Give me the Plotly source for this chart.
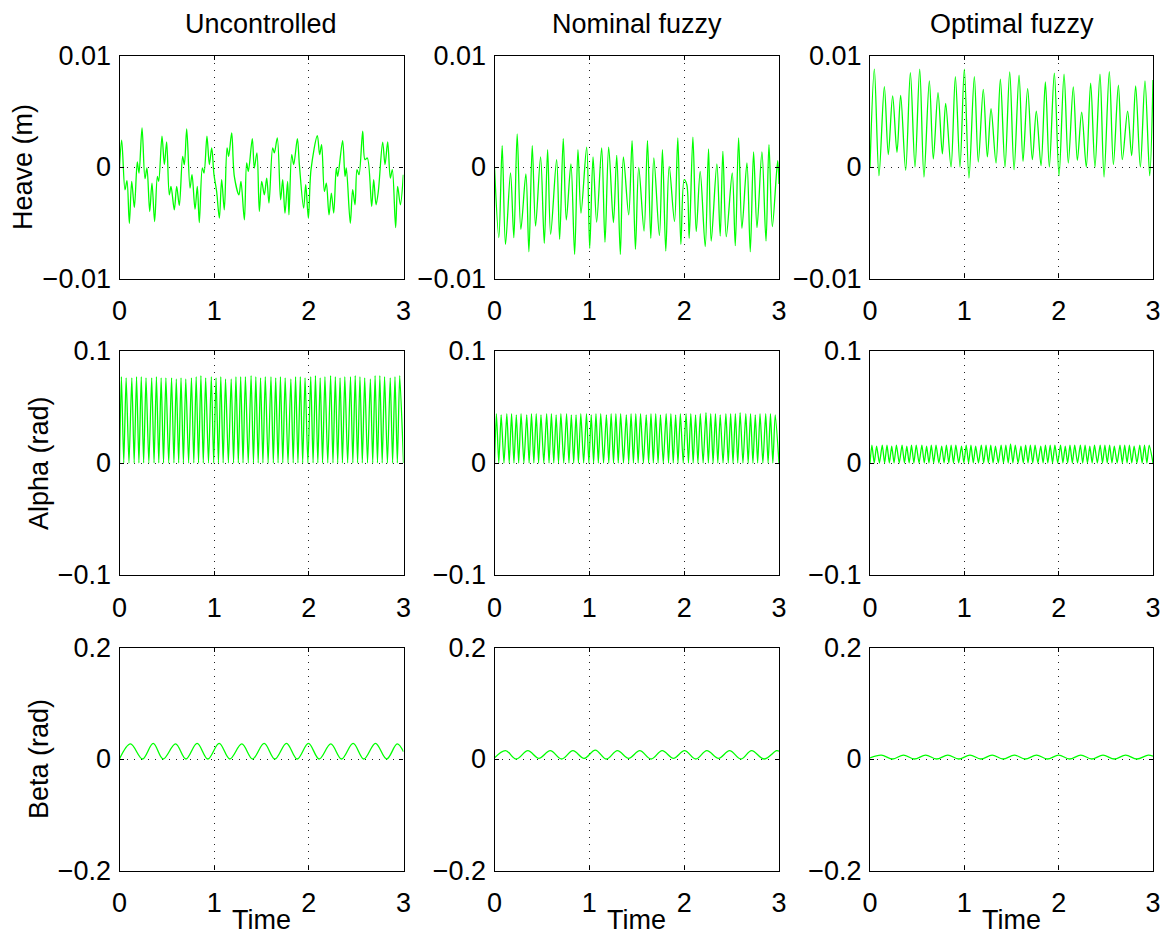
import plotly.graph_objects as go
from plotly.subplots import make_subplots

# ---------------- data ----------------
col_titles = ["Uncontrolled", "Nominal fuzzy", "Optimal fuzzy"]
row_labels = ["Heave (m)", "Alpha (rad)", "Beta (rad)"]
x_ticks = [0, 1, 2, 3]
heave_ticks = [-0.01, 0, 0.01]
alpha_ticks = [-0.1, 0, 0.1]
beta_ticks = [-0.2, 0, 0.2]

# Heave (values in mm, converted to m when plotted)
heave_unc_t = [0.00,0.023,0.058,0.079,0.104,0.129,0.157,0.188,0.206,0.238,
               0.269,0.290,0.319,0.343,0.371,0.400,0.414,0.449,0.474,0.498,
               0.526,0.544,0.579,0.604,0.632,0.667,0.685,0.710,0.745,0.766,
               0.798,0.822,0.843,0.875,0.893,0.924,0.949,0.974,0.998,1.026,
               1.055,1.079,1.107,1.136,1.153,1.185,1.213,1.262,1.283,1.319,
               1.343,1.361,1.403,1.424,1.452,1.477,1.502,1.530,1.555,1.579,
               1.618,1.636,1.667,1.702,1.724,1.748,1.776,1.790,1.819,1.840,
               1.879,1.900,1.945,1.967,1.995,2.023,2.090,2.114,2.135,2.164,
               2.185,2.213,2.238,2.263,2.290,2.305,2.357,2.382,2.396,2.438,
               2.463,2.488,2.509,2.530,2.569,2.593,2.618,2.664,2.685,2.710,
               2.734,2.780,2.805,2.833,2.861,2.882,2.917,2.938,2.967,2.998]
heave_unc_mm = [0.0,2.40,-2.04,-1.23,-5.05,-1.29,-3.63,0.45,-0.54,3.51,
                -1.05,-0.09,-3.99,-1.44,-4.89,-0.84,-1.29,2.76,0.21,2.25,
                -2.49,-1.74,-3.84,-1.74,-3.45,0.96,0.21,3.42,-1.89,-0.69,
                -3.78,-1.74,-4.98,-0.09,-0.54,2.76,0.21,1.71,-0.69,-2.19,
                -4.59,-1.14,-3.84,1.71,0.96,3.06,-0.84,-2.49,-1.29,-4.74,
                0.36,-0.39,2.55,-0.09,1.26,-3.99,-1.29,-2.49,-0.99,-3.24,
                1.71,1.26,2.61,-2.94,-1.14,-4.14,-1.29,-4.29,1.11,0.21,
                2.55,0.21,-3.69,-1.59,-4.59,-0.24,2.82,1.11,2.01,-2.19,
                -1.44,-4.29,-2.34,-4.14,-0.09,-0.84,2.37,-0.84,-0.09,-5.05,
                -2.04,-3.39,-0.24,-0.69,3.21,0.66,0.81,-3.54,-1.14,-3.39,
                -2.19,2.22,0.21,2.25,-0.99,-0.24,-5.44,-1.74,-3.39,-0.69]

heave_nom_t = [0.00,0.046,0.081,0.116,0.169,0.204,0.239,0.278,0.331,0.363,
               0.398,0.433,0.486,0.525,0.560,0.592,0.655,0.687,0.725,0.757,
               0.806,0.845,0.880,0.912,0.972,1.004,1.039,1.077,1.130,1.165,
               1.204,1.254,1.289,1.327,1.359,1.415,1.451,1.486,1.521,1.577,
               1.613,1.648,1.680,1.739,1.771,1.806,1.842,1.898,1.933,1.965,
               2.000,2.028,2.053,2.092,2.127,2.169,2.222,2.257,2.285,2.345,
               2.380,2.408,2.444,2.507,2.539,2.574,2.609,2.662,2.697,2.732,
               2.768,2.820,2.863,2.894,2.930,2.986,3.000]
heave_nom_mm = [0.0,-6.34,1.92,-6.94,-0.54,-6.34,2.97,-5.59,-0.63,-7.60,
                1.92,-5.29,0.90,-6.85,1.56,-6.04,0.66,-6.49,2.55,-4.74,
                0.27,-7.84,1.56,-4.14,1.77,-7.30,0.90,-4.95,1.71,-6.76,
                1.77,-4.98,1.05,-7.84,0.90,-4.29,2.37,-7.39,-0.03,-5.74,
                2.37,-6.40,0.81,-6.16,1.56,-7.54,0.06,-4.89,2.61,-6.94,
                -1.14,-1.59,-6.40,2.67,-5.80,-0.39,-7.15,1.62,-6.64,0.27,
                -6.19,1.41,-6.25,-0.54,-7.06,2.61,-5.50,0.36,-7.60,1.35,
                -5.44,1.35,-6.64,2.01,-5.35,0.57,-1.53]

heave_opt_t = [0.000,0.046,0.095,0.152,0.194,0.240,0.286,0.325,0.378,0.428,
               0.477,0.527,0.572,0.629,0.671,0.721,0.767,0.802,0.859,0.905,
               0.954,1.000,1.049,1.106,1.148,1.201,1.244,1.283,1.336,1.382,
               1.431,1.481,1.527,1.580,1.622,1.671,1.721,1.763,1.813,1.859,
               1.901,1.954,2.004,2.057,2.102,2.155,2.198,2.244,2.293,2.339,
               2.385,2.438,2.481,2.537,2.580,2.633,2.675,2.731,2.774,2.816,
               2.866,2.915,2.965,3.000]
heave_opt_mm = [0.00,8.77,-0.78,7.21,1.11,6.37,1.32,6.43,-0.30,8.47,
                0.00,8.77,-0.90,7.72,0.72,6.67,1.17,5.71,0.00,8.11,
                0.00,8.77,-0.99,8.11,0.45,6.97,0.90,5.23,0.36,7.87,
                0.00,8.53,-0.24,8.23,0.51,7.03,0.66,5.02,0.12,7.63,
                0.00,8.41,-0.78,8.32,0.36,7.18,0.60,4.92,0.00,7.51,
                0.00,8.32,-0.90,8.56,0.21,7.33,0.66,5.02,1.02,7.27,
                0.00,7.72,-0.78,7.81]

# Alpha: times of peaks and troughs, peak values per column, trough level per column
alpha_peak_t = [0.02,0.07,0.13,0.18,0.23,0.28,0.34,0.39,0.44,0.49,0.55,0.60,0.65,0.70,0.76,0.81,0.86,0.91,0.97,
                1.02,1.07,1.12,1.18,1.23,1.28,1.33,1.39,1.44,1.49,1.54,1.60,1.65,1.70,1.75,1.81,1.86,1.91,1.96,
                2.02,2.07,2.12,2.17,2.23,2.28,2.33,2.38,2.44,2.49,2.54,2.59,2.65,2.70,2.75,2.80,2.86,2.91,2.96]
alpha_trough_t = [0.00,0.045,0.10,0.155,0.205,0.255,0.31,0.365,0.415,0.465,0.52,0.575,0.625,0.675,0.73,0.785,0.835,0.885,0.94,
                  0.995,1.045,1.095,1.15,1.205,1.255,1.305,1.36,1.415,1.465,1.515,1.57,1.625,1.675,1.725,1.78,1.835,1.885,1.935,
                  1.99,2.045,2.095,2.145,2.20,2.255,2.305,2.355,2.41,2.465,2.515,2.565,2.62,2.675,2.725,2.775,2.83,2.885,2.935,3.0]
alpha_unc_peaks = [0.077,0.076,0.076,0.077,0.077,0.076,0.076,0.077,0.076,0.076,0.076,0.075,0.076,0.075,0.076,0.077,0.078,0.076,0.077,
                   0.076,0.077,0.075,0.075,0.077,0.077,0.077,0.078,0.077,0.076,0.077,0.077,0.076,0.077,0.076,0.075,0.077,0.077,0.076,
                   0.077,0.078,0.076,0.077,0.078,0.077,0.076,0.077,0.077,0.078,0.077,0.076,0.075,0.078,0.078,0.077,0.076,0.077,0.078]
alpha_nom_peaks = [0.044,0.043,0.044,0.044,0.043,0.044,0.043,0.044,0.044,0.043,0.044,0.044,0.043,0.044,0.044,0.043,0.043,0.044,0.044,
                   0.043,0.044,0.044,0.043,0.044,0.044,0.044,0.043,0.044,0.044,0.044,0.043,0.044,0.044,0.043,0.044,0.044,0.043,0.044,
                   0.044,0.044,0.043,0.044,0.045,0.044,0.044,0.043,0.044,0.044,0.044,0.045,0.044,0.044,0.043,0.044,0.044,0.044,0.043]
alpha_opt_peaks = [0.016,0.015,0.016,0.016,0.015,0.016,0.016,0.015,0.016,0.016,0.016,0.015,0.016,0.016,0.015,0.016,0.016,0.016,0.015,
                   0.016,0.016,0.015,0.016,0.016,0.016,0.015,0.016,0.016,0.017,0.016,0.015,0.016,0.016,0.016,0.015,0.016,0.016,0.016,
                   0.016,0.015,0.016,0.016,0.016,0.016,0.015,0.016,0.016,0.016,0.016,0.015,0.016,0.016,0.016,0.015,0.016,0.016,0.016]
alpha_trough_level = [0.0, 0.0, 0.0]

# Beta extrema
beta_unc_t = [0,0.116,0.243,0.356,0.461,0.592,0.701,0.820,0.933,1.053,1.165,1.292,1.405,1.528,
              1.641,1.764,1.877,1.996,2.109,2.232,2.345,2.468,2.581,2.704,2.822,2.933,3.0]
beta_unc_v = [0.0,0.027,0.0,0.028,0.0,0.027,0.0,0.028,0.0,0.028,0.0,0.027,0.0,0.028,
              0.0,0.028,0.0,0.028,0.0,0.027,0.0,0.028,0.0,0.028,0.0,0.027,0.013]
beta_nom_t = [0,0.116,0.229,0.352,0.468,0.588,0.708,0.827,0.944,1.063,1.180,1.296,1.415,1.532,
              1.651,1.768,1.887,2.004,2.123,2.239,2.363,2.479,2.599,2.711,2.842,2.975,3.0]
beta_nom_v = [0.002,0.015,0.0,0.015,0.001,0.015,0.0,0.015,0.001,0.016,0.0,0.015,0.001,0.015,
              0.0,0.015,0.001,0.015,0.0,0.015,0.001,0.015,0.0,0.015,0.0,0.015,0.014]
beta_opt_t = [0,0.12,0.24,0.355,0.47,0.59,0.705,0.825,0.94,1.06,1.175,1.295,1.41,1.53,
              1.645,1.765,1.88,2.0,2.115,2.235,2.35,2.47,2.59,2.71,2.83,2.95,3.0]
beta_opt_v = [0.002,0.007,0.0,0.007,0.0,0.007,0.0,0.007,0.0,0.007,0.0,0.007,0.0,0.007,
              0.0,0.007,0.0,0.007,0.0,0.007,0.0,0.007,0.0,0.007,0.0,0.007,0.005]

MM = 1e-3

# ---------------- figure ----------------
# page body has an 8px margin, so the figure is drawn 8px smaller and offset
OFF = 8
W, H = 1168 - OFF, 937 - OFF
FONT = "Liberation Sans, Arial, Helvetica, sans-serif"
FS = 27
GREEN = "#00ff00"


def px_x(p):
    return (p - OFF) / W


def px_y(p):
    return 1 - (p - OFF) / H


fig = make_subplots(rows=3, cols=3)

col_dom = [(px_x(119.5), px_x(403.5)), (px_x(494.5), px_x(779)), (px_x(870), px_x(1153))]
row_dom = [(px_y(278.5), px_y(55.5)), (px_y(575), px_y(351)), (px_y(870.5), px_y(647.5))]

heave_series = [(heave_unc_t, heave_unc_mm), (heave_nom_t, heave_nom_mm), (heave_opt_t, heave_opt_mm)]
alpha_peaks = [alpha_unc_peaks, alpha_nom_peaks, alpha_opt_peaks]
beta_series = [(beta_unc_t, beta_unc_v), (beta_nom_t, beta_nom_v), (beta_opt_t, beta_opt_v)]

for c in range(3):
    t, v = heave_series[c]
    fig.add_trace(go.Scatter(x=t, y=[a * MM for a in v], mode="lines",
                             line=dict(color=GREEN, width=1.3, shape="spline", smoothing=0.9),
                             showlegend=False, hoverinfo="skip"), row=1, col=c + 1)
    xs, ys = [], []
    for i in range(len(alpha_peak_t)):
        xs += [alpha_trough_t[i], alpha_peak_t[i]]
        ys += [alpha_trough_level[c], alpha_peaks[c][i]]
    xs.append(alpha_trough_t[-1])
    ys.append(alpha_trough_level[c])
    fig.add_trace(go.Scatter(x=xs, y=ys, mode="lines",
                             line=dict(color=GREEN, width=1.3, shape="spline", smoothing=0.6),
                             showlegend=False, hoverinfo="skip"), row=2, col=c + 1)
    t, v = beta_series[c]
    fig.add_trace(go.Scatter(x=t, y=v, mode="lines",
                             line=dict(color=GREEN, width=1.3, shape="spline", smoothing=1.0),
                             showlegend=False, hoverinfo="skip"), row=3, col=c + 1)

yticks_rows = [heave_ticks, alpha_ticks, beta_ticks]
axis_common = dict(showline=True, linecolor="black", linewidth=1.3, mirror="ticks",
                   ticks="inside", ticklen=4, tickcolor="black", tickwidth=1,
                   showgrid=True, gridcolor="#222222", gridwidth=1, griddash="1px,6px",
                   zeroline=False, automargin=False,
                   tickfont=dict(family=FONT, size=FS, color="black"),
                   fixedrange=True)

for r in range(3):
    for c in range(3):
        idx = r * 3 + c + 1
        xname = "xaxis" if idx == 1 else f"xaxis{idx}"
        yname = "yaxis" if idx == 1 else f"yaxis{idx}"
        yt = yticks_rows[r]
        fig.layout[xname].update(domain=col_dom[c], range=[0, 3], tickmode="array",
                                 tickvals=x_ticks, ticklabelstandoff=8, **axis_common)
        fig.layout[yname].update(domain=row_dom[r], range=[yt[0], yt[-1]], tickmode="array",
                                 tickvals=yt, ticklabelstandoff=2, **axis_common)

annotations = []
for c in range(3):
    cx = (col_dom[c][0] + col_dom[c][1]) / 2
    annotations.append(dict(text=col_titles[c], x=cx, y=px_y(24), xref="paper", yref="paper",
                            xanchor="center", yanchor="middle", showarrow=False,
                            font=dict(family=FONT, size=FS, color="black")))
    annotations.append(dict(text="Time", x=cx, y=px_y(920), xref="paper", yref="paper",
                            xanchor="center", yanchor="middle", showarrow=False,
                            font=dict(family=FONT, size=FS, color="black")))
ylab_x = [23, 39, 39]
for r in range(3):
    cy = (row_dom[r][0] + row_dom[r][1]) / 2
    annotations.append(dict(text=row_labels[r], x=px_x(ylab_x[r]), y=cy, xref="paper", yref="paper",
                            xanchor="center", yanchor="middle", textangle=-90, showarrow=False,
                            font=dict(family=FONT, size=FS, color="black")))

fig.update_layout(template="none", width=W, height=H, autosize=False,
                  margin=dict(l=0, r=0, t=0, b=0, autoexpand=False),
                  paper_bgcolor="white", plot_bgcolor="white",
                  annotations=annotations,
                  font=dict(family=FONT, size=FS, color="black"))

fig.write_html("out.html")
